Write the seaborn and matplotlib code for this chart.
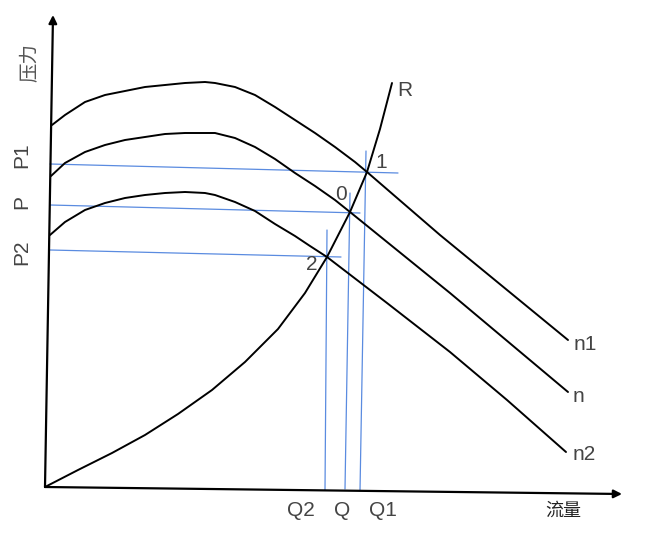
import matplotlib
matplotlib.use("Agg")
import matplotlib.pyplot as plt
import seaborn as sns
import pandas as pd

# ---- data (flow, pressure) ----
n1_flow = [1.4, 4.0, 8.0, 12.0, 16.0, 20.0, 24.0, 28.0, 32.0, 34.0, 38.0, 42.0, 46.0, 50.0,
           54.0, 58.0, 62.0, 64.4, 79.0, 104.6]
n1_pres = [72.4, 74.4, 77.0, 78.4, 79.2, 80.0, 80.4, 80.8, 81.0, 80.8, 80.0, 78.4, 76.0, 73.4,
           70.8, 68.0, 65.0, 63.0, 50.4, 29.4]

n_flow = [1.2, 4.0, 8.0, 12.0, 16.0, 20.0, 24.0, 28.0, 32.0, 34.0, 38.0, 42.0, 46.0, 50.0,
          54.0, 58.0, 61.0, 81.0, 104.6]
n_pres = [62.2, 64.8, 67.0, 68.4, 69.4, 70.0, 70.6, 70.8, 70.8, 70.8, 69.8, 68.0, 65.6, 62.8,
          60.2, 57.4, 55.0, 38.8, 19.0]

n2_flow = [1.0, 4.0, 8.0, 12.0, 16.0, 20.0, 24.0, 28.0, 32.0, 34.0, 38.0, 42.0, 46.0, 50.0,
           53.0, 56.4, 68.4, 81.0, 92.4, 104.2]
n2_pres = [50.4, 53.0, 55.4, 56.8, 57.8, 58.4, 58.8, 59.0, 58.8, 58.4, 57.0, 55.2, 52.6, 50.2,
           48.2, 46.0, 36.8, 27.0, 17.4, 7.0]

r_flow = [0.0, 6.6, 13.4, 20.0, 26.6, 33.4, 40.0, 46.6, 52.0, 56.4, 61.0, 64.4, 67.0, 69.4]
r_pres = [0.0, 3.4, 6.8, 10.4, 14.6, 19.4, 25.0, 31.6, 38.8, 46.0, 55.0, 63.0, 71.6, 80.8]

# guide lines (start, end)
p_names = ["P1", "P", "P2"]
p_line_flow = [(1.0, 70.6), (1.0, 63.0), (1.0, 59.2)]
p_line_pres = [(64.6, 62.8), (56.4, 54.8), (47.4, 46.0)]
p_label_pres = [66.4, 57.0, 47.0]

q_names = ["Q1", "Q", "Q2"]
q_line_flow = [(64.2, 63.0), (61.0, 60.0), (56.4, 56.0)]
q_line_pres = [(67.2, -0.8), (58.8, -0.4), (51.4, -0.6)]
q_label_flow = [67.6, 59.4, 51.2]

point_names = ["1", "0", "2"]
point_label_flow = [67.2, 59.2, 53.4]
point_label_pres = [65.0, 58.4, 44.4]

curve_names = ["n1", "n", "n2", "R"]
curve_label_flow = [108.0, 106.6, 107.8, 72.0]
curve_label_pres = [28.6, 18.2, 6.4, 79.4]

y_axis_end = (1.6, 94.4)
x_axis_end = (115.4, -1.4)

# ---- figure ----
sns.set_theme(style="white")
plt.rcParams["font.family"] = ["Liberation Sans", "Noto Sans CJK SC", "DejaVu Sans"]

fig = plt.figure(figsize=(6.54, 5.42), dpi=100)
ax = fig.add_axes([0, 0, 1, 1])
ax.set_xlim(-9, 121.8)
ax.set_ylim(-11, 97.4)
ax.axis("off")

blue = "#5a8be0"
for fx, py in zip(p_line_flow, p_line_pres):
    sns.lineplot(x=list(fx), y=list(py), ax=ax, color=blue, lw=0.9, sort=False)
for fx, py in zip(q_line_flow, q_line_pres):
    sns.lineplot(x=list(fx), y=list(py), ax=ax, color=blue, lw=0.9, sort=False)

for fx, py in [(n1_flow, n1_pres), (n_flow, n_pres), (n2_flow, n2_pres), (r_flow, r_pres)]:
    df = pd.DataFrame({"flow": fx, "pressure": py})
    sns.lineplot(data=df, x="flow", y="pressure", ax=ax, color="black", lw=1.4, sort=False)
for l in ax.lines:
    l.set_solid_joinstyle("round")

# axes arrows
arrow = dict(arrowstyle="-|>", color="black", lw=1.6, mutation_scale=12, shrinkA=0, shrinkB=0)
ax.annotate("", xy=y_axis_end, xytext=(0, 0), arrowprops=arrow)
ax.annotate("", xy=x_axis_end, xytext=(0, 0), arrowprops=arrow)

txt = "#444444"
ax.text(-3.0, 84.8, "压力", rotation=90, ha="center", va="center", fontsize=14,
        color="#555555", family=["Noto Sans CJK SC", "DejaVu Sans"])
for name, yv in zip(p_names, p_label_pres):
    ax.text(-4.6, yv, name, rotation=90, ha="center", va="center", fontsize=15, color=txt)
for name, xv in zip(q_names, q_label_flow):
    ax.text(xv, -4.6, name, ha="center", va="center", fontsize=15, color=txt)
for name, xv, yv in zip(point_names, point_label_flow, point_label_pres):
    ax.text(xv, yv, name, ha="center", va="center", fontsize=15, color=txt)
for name, xv, yv in zip(curve_names, curve_label_flow, curve_label_pres):
    ax.text(xv, yv, name, ha="center", va="center", fontsize=15, color=txt)
ax.text(103.6, -4.8, "流量", ha="center", va="center", fontsize=13, color="#222222",
        family=["Noto Sans CJK SC", "DejaVu Sans"])

fig.savefig("out.png", dpi=100)
